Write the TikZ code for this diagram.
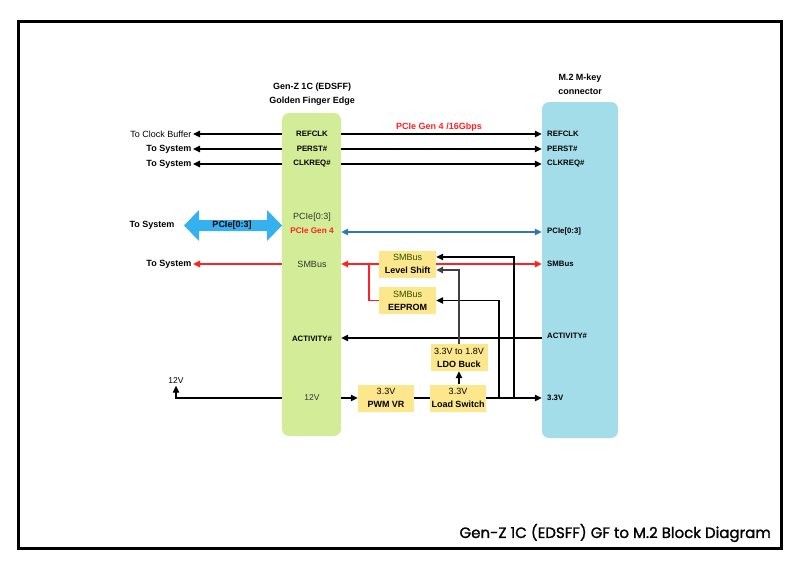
\documentclass[tikz,border=0pt]{standalone}
\usepackage{fontspec}
\setmainfont{Liberation Sans}
\newfontfamily\titlefont[FakeBold=1.2]{Poppins}
\usetikzlibrary{arrows.meta}
\definecolor{gfill}{HTML}{D3EC98}
\definecolor{bfill}{HTML}{A2DDE9}
\definecolor{yfill}{HTML}{FDE78C}
\definecolor{cyanarrow}{HTML}{35B1EF}
\definecolor{pcieblue}{HTML}{2F77B5}
\definecolor{sred}{HTML}{FF2222}
\definecolor{smtxt}{HTML}{2A5200}
\definecolor{dtxt}{HTML}{333333}
\definecolor{gline}{HTML}{404040}
\begin{document}
\begin{tikzpicture}[x=1pt,y=-1pt,
  >={Triangle[length=7pt,width=6.5pt]},
  conn/.style={line width=1.2pt},
  redconn/.style={line width=1.5pt,draw=sred},
  bigbox/.style={draw=none,rounded corners=7pt,inner sep=0pt},
  ybox/.style={fill=yfill,draw=none,inner sep=0pt,minimum width=57pt,minimum height=27pt,align=center,font=\fontsize{9}{13}\selectfont},
  pin/.style={font=\fontsize{7.8}{9}\selectfont\bfseries,inner sep=1pt},
  lbl/.style={font=\fontsize{9}{11}\selectfont,inner sep=1.5pt},
  blbl/.style={font=\fontsize{9}{11}\selectfont\bfseries,inner sep=1.5pt},
  ttl/.style={font=\fontsize{9}{14}\selectfont\bfseries,align=center,inner sep=0pt}]
\useasboundingbox (0,0) rectangle (800,571);
\fill[white] (0,0) rectangle (800,571);
% border
\draw[line width=3pt] (18,21) rectangle (781,548);
\node[anchor=east,inner sep=0pt,font=\titlefont\fontsize{15}{17}\selectfont] (title) at (771,533) {Gen-Z 1C (EDSFF) GF to M.2 Block Diagram};

% main boxes
\node[bigbox,fill=gfill,minimum width=59pt,minimum height=323pt] (gz) at (311.5,274.5) {};
\node[bigbox,fill=bfill,minimum width=76pt,minimum height=336pt] (bz) at (580,270) {};
\node[ttl] (gzt) at (312,94) {Gen-Z 1C (EDSFF)\\Golden Finger Edge};
\node[ttl] (bzt) at (580,84.5) {M.2 M-key\\connector};

% green pins
\node[pin] (gref) at (312,134) {REFCLK};
\node[pin] (gper) at (312,149) {PERST\#};
\node[pin] (gclk) at (312,164) {CLKREQ\#};
\node[lbl,text=dtxt] (gpci) at (312,217) {PCIe[0:3]};
\node[pin,text=sred,font=\fontsize{8.2}{9}\selectfont\bfseries] (gpcg) at (312,231) {PCIe Gen 4};
\node[lbl,text=dtxt] (gsmb) at (312,264) {SMBus};
\node[pin] (gact) at (312,339) {ACTIVITY\#};
\node[lbl,text=dtxt,font=\fontsize{8.5}{10}\selectfont] (g12) at (312,398) {12V};

% blue pins
\node[pin,anchor=west] (bref) at (546,134) {REFCLK};
\node[pin,anchor=west] (bper) at (546,149) {PERST\#};
\node[pin,anchor=west] (bclk) at (546,164) {CLKREQ\#};
\node[pin,anchor=west] (bpci) at (546,231) {PCIe[0:3]};
\node[pin,anchor=west] (bsmb) at (546,264) {SMBus};
\node[pin,anchor=west] (bact) at (546,336) {ACTIVITY\#};
\node[pin,anchor=west] (b33) at (546,398) {3.3V};

% left labels
\node[lbl,anchor=east] (tcb) at (193,134) {To Clock Buffer};
\node[blbl,anchor=east] (ts1) at (193,149) {To System};
\node[blbl,anchor=east] (ts2) at (193,164) {To System};
\node[blbl] (ts3) at (152,225) {To System};
\node[blbl,anchor=east] (ts4) at (193,264) {To System};
\node[lbl,font=\fontsize{8.5}{10}\selectfont] (v12) at (176,381) {12V};
\coordinate (c12) at (176,398);

% PCIe Gen 4 label
\node[blbl,text=sred] (pg4) at (439,127) {PCIe Gen 4 /16Gbps};

% left arrows
\draw[conn,->] (gz.west |- gref) -- (tcb.east);
\draw[conn,->] (gz.west |- gper) -- (ts1.east);
\draw[conn,->] (gz.west |- gclk) -- (ts2.east);
\draw[redconn,->,sred] (gz.west |- gsmb) -- (ts4.east);
\draw[conn,->] (gz.west |- c12) -- (c12) -- (v12.south);

% right arrows
\draw[conn,->] (gz.east |- bref) -- (bz.west |- bref);
\draw[conn,->] (gz.east |- bper) -- (bz.west |- bper);
\draw[conn,->] (gz.east |- bclk) -- (bz.west |- bclk);
\draw[conn,<->,pcieblue] (gz.east |- 0,232) -- (bz.west |- 0,232);
\draw[conn,->] (bz.west |- 0,338) -- (gz.east |- 0,338);

% big cyan double arrow
\fill[cyanarrow] (184,225.5) -- (199,210) -- (199,220) -- (267,220) -- (267,210) -- (282,225.5)
  -- (267,241) -- (267,231) -- (199,231) -- (199,241) -- cycle;
\node[blbl] (bigl) at (232,225.5) {PCIe[0:3]};

% SMBus red
\draw[redconn,<->,sred] (gz.east |- gsmb) -- (bz.west |- gsmb);
\coordinate (rbr) at (369,264);
\node[ybox] (ls) at (407.5,264) {\textcolor{smtxt}{SMBus}\\\textbf{Level Shift}};
\node[ybox] (ee) at (407.5,300.5) {\textcolor{smtxt}{SMBus}\\\textbf{EEPROM}};
\draw[redconn] (rbr) |- (ee.west);

% power
\node[ybox,minimum width=56pt] (pwm) at (386,398) {3.3V\\\textbf{PWM VR}};
\node[ybox,minimum width=56pt] (lsw) at (458,398) {3.3V\\\textbf{Load Switch}};
\node[ybox] (ldo) at (459,357.5) {3.3V to 1.8V\\\textbf{LDO Buck}};
\draw[conn,->] (gz.east |- pwm) -- (pwm.west);
\draw[conn] (pwm.east) -- (lsw.west);
\draw[conn,->] (lsw.east) -- (bz.west |- lsw);
\draw[conn,->] (lsw.north -| ldo) -- (ldo.south);
\coordinate (r1) at (499,398);
\coordinate (r2) at (514,398);
\draw[conn,->] (r2) |- ([yshift=7pt]ls.east);
\draw[conn,->] (r1) |- (ee.east);
\draw[conn,->,gline,line width=1.6pt] (ldo.north) |- ([yshift=-6pt]ls.east);
\end{tikzpicture}
\end{document}
